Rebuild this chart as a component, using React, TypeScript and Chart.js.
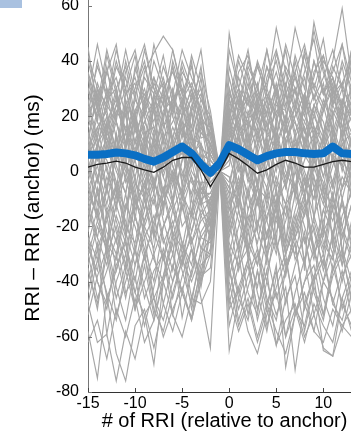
import React, { useEffect, useRef } from "react";
import { Chart, registerables } from "chart.js";
Chart.register(...registerables);

// x positions: # of RRI relative to anchor
const xValues = [-15, -14, -13, -12, -11, -10, -9, -8, -7, -6, -5, -4, -3, -2, -1, 0, 1, 2, 3, 4, 5, 6, 7, 8, 9, 10, 11, 12, 13, 14];

const yTitle = "RRI – RRI (anchor) (ms)";
const xTitle = "# of RRI (relative to anchor)";

// thick blue line
const blueLine = [6, 6, 6.3, 6.8, 6.5, 5.8, 4.5, 3.5, 5, 7, 9, 6.5, 2.5, -0.5, 3, 9.5, 8, 6, 4, 5.5, 6.5, 7, 7, 6.5, 6.3, 6.5, 9, 6.5, 6.3, 6.3];
// thin black mean line
const meanLine = [1.5, 2.5, 3, 3.7, 3, 1.5, 0.5, -0.4, 1.5, 4, 5, 5, 0.5, -5.5, 0, 6.5, 4.5, 2, -0.7, 0.5, 2.5, 4, 3, 1.5, 1.5, 2.5, 3.5, 4, 3.5, 3];

// individual gray traces
const highTraces = [
  [45, 22, 38, 18, 40, 26, 44, 30, 20, 38, 24, 40, 16, 10, 0, 30, 14, 36, 22, 44, 28, 18, 40, 24, 34, 48, 26, 38, 20, 36],
  [20, 40, 26, 44, 30, 16, 36, 43, 49, 44, 28, 38, 20, 14, 0, 18, 34, 24, 40, 30, 52, 36, 22, 44, 30, 42, 28, 46, 32, 24],
  [34, 18, 42, 28, 14, 38, 24, 46, 32, 22, 40, 30, 44, 18, 0, 50, 30, 44, 24, 38, 28, 46, 34, 26, 54, 38, 24, 40, 30, 46],
  [28, 46, 30, 20, 36, 44, 26, 34, 18, 40, 28, 16, 34, 8, 0, 22, 40, 28, 16, 34, 44, 30, 52, 38, 26, 40, 34, 22, 42, 30],
  [40, 26, 36, 46, 24, 30, 40, 22, 38, 28, 44, 34, 26, 20, 0, 38, 24, 40, 30, 20, 43, 28, 36, 46, 30, 22, 38, 30, 44, 28],
  [18, 32, 22, 38, 30, 42, 20, 34, 26, 44, 30, 22, 38, 12, 0, 26, 42, 34, 20, 38, 28, 44, 24, 36, 48, 28, 40, 59, 34, 26],
  [36, 24, 44, 30, 38, 20, 34, 28, 42, 24, 36, 30, 18, 16, 0, 34, 20, 30, 39, 26, 36, 22, 42, 30, 51, 36, 24, 32, 40, 22],
  [24, 38, 28, 34, 20, 36, 46, 30, 24, 38, 22, 42, 30, 6, 0, 44, 30, 24, 38, 28, 20, 36, 28, 42, 26, 34, 44, 30, 24, 38],
  [30, 20, 36, 26, 44, 28, 38, 24, 34, 20, 38, 26, 36, 22, 0, 20, 36, 42, 26, 32, 40, 24, 34, 22, 40, 28, 36, 46, 26, 34],
  [42, 30, 24, 40, 28, 34, 22, 40, 30, 36, 26, 32, 22, 4, 0, 28, 22, 38, 30, 44, 26, 38, 30, 20, 36, 42, 30, 24, 38, 44],
];
const upperTraces = [
  [12, 28, 8, 22, 16, 4, 24, 14, 30, 10, 20, 26, 8, 6, 0, 16, 28, 10, 24, 14, 30, 18, 6, 26, 14, 22, 32, 12, 20, 8],
  [24, 10, 20, 4, 26, 16, 8, 22, 28, 12, 24, 6, 18, -2, 0, 10, 4, 22, 14, 26, 10, 20, 30, 14, 22, 8, 24, 16, 28, 12],
  [6, 20, 28, 12, 2, 22, 30, 16, 6, 24, 12, 28, 14, 10, 0, 24, 30, 12, 20, 6, 26, 14, 24, 34, 16, 10, 26, 20, 8, 22],
  [18, 30, 14, 24, 34, 18, 10, 28, 16, 22, 34, 14, 24, 12, 0, 8, 20, 32, 18, 26, 12, 28, 18, 6, 24, 30, 14, 26, 18, 32],
  [26, 12, 30, 18, 8, 26, 20, 4, 20, 30, 16, 8, 22, 2, 0, 26, 14, 20, 32, 12, 22, 16, 4, 28, 20, 12, 30, 22, 14, 20],
  [4, 16, 22, 6, 24, 10, 26, 18, 30, 8, 20, 30, 12, 14, 0, 6, 22, 26, 10, 30, 20, 8, 24, 18, 10, 24, 34, 16, 6, 26],
  [20, 8, 26, 30, 10, 22, 4, 28, 12, 18, 26, 10, 4, 8, 0, 20, 30, 16, 24, 4, 18, 28, 12, 22, 32, 24, 10, 22, 30, 20],
  [30, 18, 10, 24, 20, 6, 22, 32, 24, 10, 6, 22, 28, 16, 0, 30, 16, 6, 22, 28, 18, 32, 22, 10, 24, 14, 28, 32, 20, 10],
  [10, 30, 20, 8, 28, 32, 14, 6, 22, 26, 30, 12, 10, -6, 0, 4, 24, 18, 8, 22, 30, 10, 20, 28, 12, 26, 16, 6, 24, 30],
  [0, 14, 24, 18, 4, 20, 28, 22, 2, 12, 26, 4, 20, 4, 0, 18, 6, 28, 20, 8, 24, 22, 6, 18, 28, 14, 20, 30, 8, 22],
  [22, 26, 12, 4, 24, 10, 18, 26, 32, 20, 8, 24, 30, 16, 0, 14, 26, 8, 28, 20, 12, 30, 14, 24, 6, 22, 30, 12, 26, 16],
  [14, 4, 18, 26, 10, 28, 12, 2, 16, 26, 20, 30, 18, 6, 0, 10, 18, 28, 12, 24, 8, 20, 30, 10, 24, 18, 4, 26, 20, 8],
  [16, 24, 6, 20, 30, 14, 22, 12, 26, 4, 18, 14, 26, 18, 0, 22, 12, 18, 30, 16, 26, 10, 20, 28, 16, 6, 22, 14, 32, 24],
  [8, 22, 16, 30, 14, 20, 6, 24, 10, 28, 14, 22, 6, -4, 0, 12, 28, 20, 6, 18, 32, 16, 26, 8, 20, 32, 12, 24, 10, 18],
];
const midTraces = [
  [2, -12, 10, -4, -14, 6, 16, -6, 8, -10, 4, 14, -8, -8, 0, 10, -6, 6, 16, -2, -12, 8, 2, -8, 12, -2, 10, -6, 6, -4],
  [-10, 6, -6, 12, 0, -12, 8, -4, -14, 6, 16, 0, -6, -12, 0, -8, 4, 14, -6, 10, -4, -12, 6, 16, -6, 4, -10, 10, 2, -8],
  [8, 16, 0, -10, 10, 18, 2, -8, 12, -2, 8, -10, 4, -6, 0, 12, 2, -8, 10, 18, 4, -6, 12, 0, -10, 8, 16, 0, 12, 2],
  [-2, 10, 16, 2, -8, 12, -2, 8, 18, 2, -8, 10, 16, 6, 0, -2, -12, 8, -4, 12, 0, 16, 4, -8, 10, -2, 12, 2, -8, 10],
  [-6, 2, -12, 6, 14, -4, -10, 10, -2, -12, 4, 14, -2, -14, 0, 4, 14, -2, -12, 2, 14, -6, 8, -4, 6, -10, 2, 14, -4, -8],
  [12, -2, 6, 18, 4, -8, 14, 16, 2, 12, -4, 6, 10, 2, 0, 16, 0, 8, -6, -10, 12, 4, -8, 10, 16, 2, -6, 10, 14, -2],
  [-8, -16, -2, -12, 4, -14, -4, 6, -12, 0, -8, -16, -4, -16, 0, -12, 2, -14, -4, 6, -8, -16, 0, -10, 4, -4, -14, -2, -8, -16],
  [6, 12, -6, 4, 14, 8, -4, -12, 4, 16, 8, -4, -10, -20, 0, -4, 10, 2, -12, 6, 16, 0, -8, 12, -2, -12, 6, 2, 12, -4],
  [-12, -2, -16, -6, 2, -10, -18, -4, -12, 0, -14, -2, -12, -24, 0, -14, -4, 4, -10, -18, -2, -12, -6, -16, 2, -10, -18, -6, 0, -12],
  [14, 4, 12, 0, -8, 8, 18, 10, 0, 8, 18, 2, 14, 10, 0, 20, 8, -2, 14, 4, -6, 12, 18, 6, 0, 14, 4, -6, 8, 16],
  [0, 8, -8, 14, -4, 4, -10, 12, 6, -6, 10, -2, -12, -2, 0, 6, -8, 12, 2, -6, 10, -4, 14, -8, 4, 12, -6, 8, -10, 4],
  [4, -8, 2, -14, 8, -2, 10, -6, 14, 2, -10, 8, 2, -4, 0, -6, 12, -4, 6, -12, 2, 10, -6, 4, 14, -8, 6, -10, 4, 10],
  [-4, 10, 4, -6, -14, 2, -6, 14, -2, 10, 0, -8, 6, 4, 0, 14, 4, -10, 6, 0, -14, 6, 10, -2, -10, 8, -4, 12, 0, -6],
  [10, -4, 14, 6, -2, 16, 4, -6, 8, -4, 14, 6, -6, -10, 0, 2, 18, 6, -4, 14, 8, -2, 10, 16, 4, -6, 14, 4, -2, 8],
];
const lowerTraces = [
  [-10, -24, -6, -18, -30, -12, -4, -22, -32, -14, -6, -22, -10, -8, 0, -16, -28, -6, -22, -32, -12, -4, -24, -16, -2, -20, -30, -10, -24, -8],
  [-22, -6, -26, -32, -14, -2, -20, -28, -8, -24, -34, -14, -4, -4, 0, -6, -18, -30, -10, -24, -6, -28, -14, -2, -22, -34, -12, -20, -6, -26],
  [-28, -36, -14, -6, -22, -34, -18, -8, -24, -36, -12, -26, -18, -14, 0, -24, -8, -22, -34, -12, -26, -38, -20, -8, -28, -14, -22, -34, -18, -10],
  [-4, -18, -28, -12, -2, -16, -30, -20, -6, -14, -26, -34, -16, -10, 0, -26, -34, -14, -4, -18, -30, -12, -24, -34, -16, -6, -24, -10, -28, -18],
  [-16, -2, -14, -26, -8, -28, -14, -2, -18, -30, -10, -2, -16, -24, 0, -2, -14, -28, -20, -6, -18, -26, -8, -20, -32, -14, -4, -20, -30, -12],
  [-30, -18, -6, -22, -36, -16, -28, -40, -20, -10, -26, -38, -22, -16, 0, -34, -20, -8, -28, -40, -16, -30, -20, -8, -28, -40, -22, -12, -26, -36],
  [-6, -16, -26, -8, -18, -30, -10, -24, -12, -2, -20, -14, -28, -30, 0, -8, -26, -18, -6, -24, -12, -30, -18, -4, -16, -28, -8, -24, -12, -22],
  [-24, -32, -16, -36, -24, -10, -22, -32, -40, -24, -12, -28, -38, -12, 0, -30, -14, -30, -42, -22, -14, -34, -24, -12, -30, -20, -36, -24, -12, -32],
  [-14, -24, -34, -16, -26, -40, -20, -10, -26, -18, -34, -22, -8, -2, 0, -18, -36, -22, -10, -30, -22, -12, -32, -24, -40, -18, -8, -28, -40, -24],
  [-20, -8, -22, -30, -12, -20, -32, -18, -6, -22, -28, -10, -24, -18, 0, -22, -10, -26, -34, -16, -8, -24, -30, -14, -6, -26, -32, -16, -8, -28],
  [-12, -28, -18, -4, -20, -26, -8, -30, -20, -12, -30, -18, -6, -12, 0, -10, -30, -16, -26, -8, -28, -18, -4, -26, -18, -30, -10, -22, -32, -14],
  [-26, -14, -30, -20, -34, -8, -24, -16, -32, -20, -8, -26, -14, -20, 0, -20, -6, -32, -18, -28, -12, -36, -22, -10, -30, -22, -14, -34, -20, -26],
];
const lowTraces = [
  [-35, -50, -26, -42, -54, -34, -24, -46, -38, -22, -36, -48, -28, -18, 0, -28, -44, -32, -50, -36, -24, -48, -34, -22, -44, -54, -36, -28, -48, -38],
  [-44, -28, -59, -40, -30, -50, -34, -52, -30, -46, -32, -24, -42, -22, 0, -36, -50, -38, -28, -46, -54, -36, -26, -50, -38, -30, -48, -54, -40, -32],
  [-26, -40, -50, -30, -46, -28, -42, -54, -38, -26, -53, -36, -24, -26, 0, -44, -30, -52, -36, -56, -42, -32, -50, -56, -40, -32, -48, -36, -52, -30],
  [-48, -32, -44, -54, -36, -50, -30, -46, -54, -40, -30, -50, -36, -28, 0, -56, -42, -32, -50, -36, -63, -46, -38, -58, -42, -52, -34, -48, -56, -40],
  [-24, -40, -48, -34, -26, -44, -52, -70, -40, -30, -44, -28, -46, -64, 0, -30, -46, -54, -36, -50, -34, -71, -52, -40, -34, -52, -38, -30, -46, -52],
  [-36, -48, -30, -52, -40, -28, -46, -36, -30, -52, -38, -28, -40, -20, 0, -65, -46, -34, -54, -40, -52, -42, -72, -48, -38, -65, -67, -46, -36, -48],
  [-40, -26, -46, -36, -24, -50, -40, -30, -48, -34, -44, -53, -34, -30, 0, -38, -26, -44, -52, -30, -46, -36, -26, -48, -58, -40, -30, -50, -38, -28],
  [-30, -46, -36, -24, -44, -38, -56, -42, -28, -40, -26, -46, -32, -10, 0, -48, -34, -28, -44, -58, -38, -30, -52, -40, -28, -46, -56, -38, -30, -50],
  [-52, -38, -28, -46, -34, -44, -30, -50, -58, -44, -32, -40, -30, -24, 0, -34, -54, -42, -30, -48, -36, -60, -44, -32, -52, -40, -46, -58, -44, -34],
];
const veryLowTraces = [
  [-58, -75, -45, -66, -76, -56, -50, -64, -48, -58, -44, -54, -40, -30, 0, -40, -56, -46, -60, -48, -58, -66, -52, -44, -58, -62, -50, -56, -60, -48],
  [-48, -62, -59, -76, -58, -68, -52, -46, -60, -50, -42, -54, -38, -35, 0, -46, -58, -48, -62, -50, -63, -54, -48, -60, -52, -64, -67, -56, -50, -58],
  [-62, -54, -68, -50, -60, -46, -62, -54, -40, -52, -60, -46, -48, -40, 0, -50, -42, -58, -66, -52, -44, -60, -50, -62, -48, -56, -62, -46, -58, -52],
];
const driftTraces = [
  [35, 22, 14, 28, 8, 20, 0, 12, -8, 6, -10, 4, -12, -10, 0, -14, -2, -20, -6, -24, -10, -30, -16, -32, -20, -36, -24, -40, -26, -34],
  [-34, -20, -28, -12, -24, -4, -14, 4, -8, 10, -2, 12, 4, 2, 0, 12, 20, 6, 26, 14, 30, 18, 36, 22, 40, 28, 34, 24, 44, 30],
  [5, -16, 18, -8, 24, -18, 12, -24, 8, -12, 22, -16, 10, -20, 0, 22, -14, 18, -22, 12, -26, 20, -10, 28, -18, 14, -28, 22, -8, 18],
  [-20, 10, -30, 14, -24, 20, -10, 26, -16, 30, -6, 22, -12, 10, 0, -20, 16, -30, 8, -34, 20, -26, 4, -36, 12, -24, 22, -32, 6, -18],
];

const grayTraces = [...highTraces, ...upperTraces, ...midTraces, ...lowerTraces, ...lowTraces, ...veryLowTraces, ...driftTraces];

const FONT = '"Liberation Sans", Arial, Helvetica, sans-serif';
const CANVAS_TOP = -68;

export default function App() {
  const ref = useRef<HTMLCanvasElement | null>(null);
  useEffect(() => {
    if (!ref.current) return;
    const toPts = (arr: number[]) => arr.map((v, i) => ({ x: xValues[i], y: v }));
    const datasets: any[] = grayTraces.map((t) => ({
      data: toPts(t),
      borderColor: "#a6a6a6",
      borderWidth: 1.15,
      pointRadius: 0,
      tension: 0,
      order: 3,
    }));
    datasets.push({
      data: toPts(blueLine),
      borderColor: "#0a6fc4",
      borderWidth: 8,
      pointRadius: 0,
      tension: 0,
      borderJoinStyle: "round",
      borderCapStyle: "round",
      order: 2,
    });
    datasets.push({
      data: toPts(meanLine),
      borderColor: "#1a1a1a",
      borderWidth: 1.3,
      pointRadius: 0,
      tension: 0,
      order: 1,
    });

    const extras = {
      id: "extras",
      afterDatasetsDraw(chart: any) {
        const { ctx, chartArea, scales } = chart;
        ctx.save();
        ctx.lineWidth = 1;
        ctx.strokeStyle = "#444";
        scales.x.ticks.forEach((t: any) => {
          const px = Math.round(scales.x.getPixelForValue(t.value)) + 0.5;
          ctx.beginPath();
          ctx.moveTo(px, chartArea.bottom);
          ctx.lineTo(px, chartArea.bottom - 4);
          ctx.stroke();
        });
        ctx.strokeStyle = "#777";
        scales.y.ticks.forEach((t: any) => {
          const py = Math.round(scales.y.getPixelForValue(t.value)) + 0.5;
          ctx.beginPath();
          ctx.moveTo(chartArea.left, py);
          ctx.lineTo(chartArea.left + 4, py);
          ctx.stroke();
        });
        ctx.restore();
      },
      afterDraw(chart: any) {
        const { ctx } = chart;
        ctx.save();
        ctx.translate(39, 208 - CANVAS_TOP);
        ctx.rotate(-Math.PI / 2);
        ctx.font = `21px ${FONT}`;
        ctx.fillStyle = "#000";
        ctx.textAlign = "center";
        ctx.textBaseline = "alphabetic";
        ctx.fillText(yTitle, 0, 0);
        ctx.restore();
      },
    };

    const chart = new Chart(ref.current, {
      type: "line",
      data: { datasets },
      options: {
        animation: false,
        responsive: false,
        devicePixelRatio: 1,
        layout: { padding: { top: 2, right: 39, left: 0, bottom: 0 } },
        plugins: { legend: { display: false }, tooltip: { enabled: false } },
        scales: {
          x: {
            type: "linear",
            min: -15,
            max: 14,
            grid: { display: false, drawTicks: false },
            border: { display: true, color: "#333", width: 1 },
            ticks: {
              stepSize: 5,
              includeBounds: false,
              autoSkip: false,
              maxRotation: 0,
              padding: 2,
              color: "#000",
              font: { family: FONT, size: 16 },
            },
            title: {
              display: true,
              text: xTitle,
              color: "#000",
              font: { family: FONT, size: 20 },
              padding: { top: 0, bottom: 7 },
            },
            afterFit(scale: any) {
              scale.height = 48;
            },
          },
          y: {
            type: "linear",
            min: -80,
            max: 80,
            grid: { display: false, drawTicks: false },
            border: { display: true, color: "#777", width: 1 },
            ticks: {
              stepSize: 20,
              includeBounds: false,
              autoSkip: false,
              padding: 9,
              color: "#000",
              font: { family: FONT, size: 16 },
            },
            afterFit(scale: any) {
              scale.width = 88;
            },
          },
        },
      } as any,
      plugins: [extras],
    });
    return () => chart.destroy();
  }, []);

  return (
    <div style={{ position: "fixed", left: 0, top: 0, width: 351, height: 438, overflow: "hidden", background: "#fff" }}>
      <canvas ref={ref} width={400} height={508} style={{ position: "absolute", left: 0, top: CANVAS_TOP, width: 400, height: 508 }} />
      <div style={{ position: "absolute", left: 0, top: 0, width: 22, height: 8, background: "#a9c1e0" }} />
    </div>
  );
}
